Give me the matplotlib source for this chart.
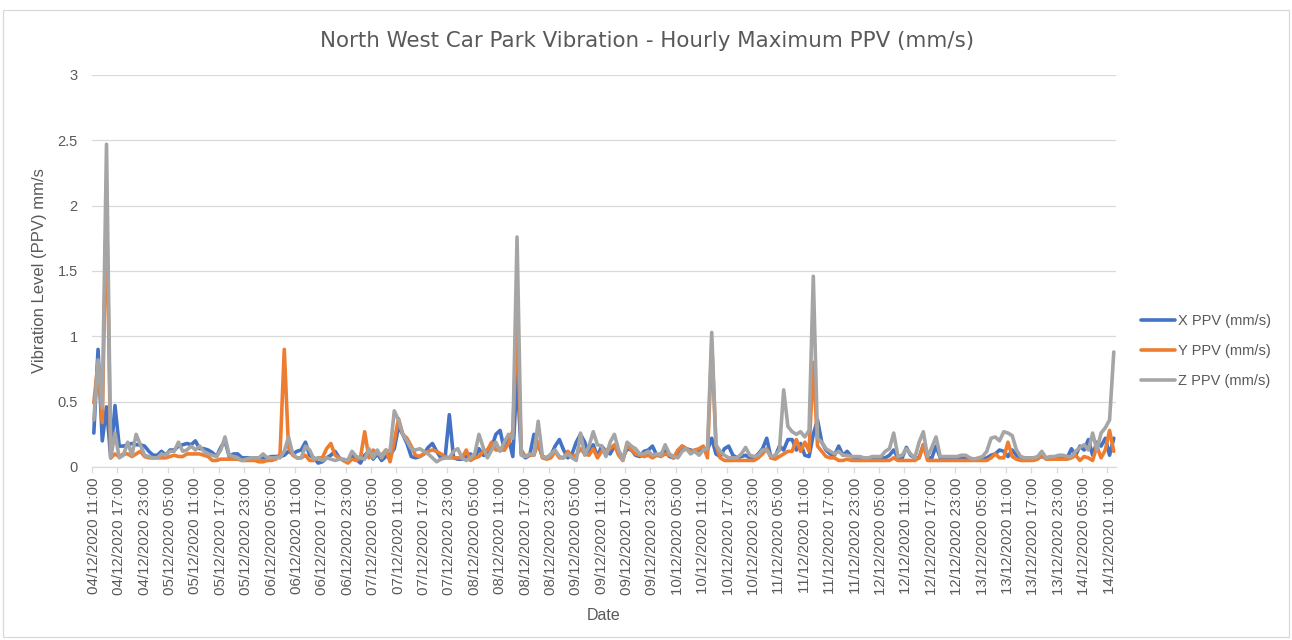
import matplotlib
matplotlib.use('Agg')
import matplotlib.pyplot as plt
import numpy as np
import pandas as pd
from matplotlib.patches import Rectangle

# ---------------- data ----------------
start_time = '2020-12-04 11:00'

x_ppv = [
    0.26, 0.90, 0.20, 0.46, 0.07, 0.47, 0.16, 0.16, 0.17, 0.18,
    0.17, 0.17, 0.16, 0.12, 0.09, 0.09, 0.12, 0.09, 0.13, 0.13,
    0.16, 0.17, 0.18, 0.17, 0.20, 0.14, 0.14, 0.13, 0.11, 0.08,
    0.15, 0.20, 0.08, 0.10, 0.10, 0.07, 0.07, 0.07, 0.07, 0.07,
    0.07, 0.07, 0.08, 0.08, 0.08, 0.09, 0.12, 0.10, 0.12, 0.13,
    0.19, 0.09, 0.07, 0.03, 0.04, 0.07, 0.09, 0.12, 0.07, 0.05,
    0.04, 0.09, 0.06, 0.03, 0.09, 0.12, 0.06, 0.10, 0.05, 0.08,
    0.09, 0.14, 0.31, 0.25, 0.18, 0.08, 0.07, 0.08, 0.10, 0.15,
    0.18, 0.12, 0.07, 0.07, 0.40, 0.07, 0.06, 0.06, 0.08, 0.10,
    0.07, 0.14, 0.09, 0.09, 0.15, 0.25, 0.28, 0.13, 0.22, 0.08,
    0.70, 0.10, 0.07, 0.09, 0.25, 0.17, 0.08, 0.07, 0.09, 0.16,
    0.21, 0.13, 0.07, 0.10, 0.19, 0.25, 0.19, 0.10, 0.17, 0.08,
    0.16, 0.12, 0.10, 0.16, 0.12, 0.07, 0.14, 0.13, 0.09, 0.08,
    0.12, 0.13, 0.16, 0.09, 0.10, 0.13, 0.08, 0.07, 0.10, 0.16,
    0.14, 0.13, 0.12, 0.13, 0.14, 0.13, 0.22, 0.10, 0.08, 0.14,
    0.16, 0.09, 0.07, 0.08, 0.09, 0.07, 0.07, 0.10, 0.14, 0.22,
    0.07, 0.08, 0.16, 0.13, 0.21, 0.21, 0.13, 0.18, 0.09, 0.08,
    0.25, 0.36, 0.19, 0.13, 0.10, 0.09, 0.16, 0.09, 0.12, 0.08,
    0.07, 0.07, 0.06, 0.06, 0.07,
    0.07, 0.07, 0.07, 0.09,
    0.13, 0.07, 0.07, 0.15, 0.09, 0.07, 0.07, 0.17, 0.07, 0.07,
    0.16, 0.07, 0.07, 0.07, 0.07, 0.07, 0.07, 0.07, 0.06, 0.06,
    0.06, 0.06, 0.07, 0.09, 0.10, 0.13, 0.12, 0.08, 0.13, 0.09,
    0.07, 0.07, 0.07, 0.07, 0.07, 0.08, 0.07, 0.07, 0.07, 0.07,
    0.07, 0.07, 0.14, 0.09, 0.16, 0.13, 0.21, 0.09, 0.19, 0.16,
    0.22, 0.09, 0.22,
]

y_ppv = [
    0.49, 0.80, 0.34, 2.05, 0.07, 0.10, 0.08, 0.10, 0.10, 0.08,
    0.10, 0.12, 0.08, 0.07, 0.07, 0.07, 0.07, 0.07, 0.08, 0.09,
    0.08, 0.08, 0.10, 0.10, 0.10, 0.10, 0.09, 0.08, 0.05, 0.05,
    0.06, 0.06, 0.06, 0.06, 0.06, 0.05, 0.05, 0.05, 0.05, 0.04,
    0.04, 0.05, 0.05, 0.06, 0.10, 0.90, 0.15, 0.09, 0.07, 0.07,
    0.09, 0.05, 0.05, 0.07, 0.07, 0.14, 0.18, 0.09, 0.07, 0.05,
    0.03, 0.06, 0.05, 0.07, 0.27, 0.07, 0.13, 0.10, 0.09, 0.13,
    0.04, 0.20, 0.37, 0.25, 0.22, 0.16, 0.09, 0.08, 0.10, 0.12,
    0.13, 0.12, 0.10, 0.08, 0.07, 0.07, 0.07, 0.07, 0.13, 0.05,
    0.07, 0.08, 0.12, 0.13, 0.19, 0.13, 0.13, 0.13, 0.18, 0.28,
    1.10, 0.13, 0.08, 0.09, 0.09, 0.19, 0.07, 0.06, 0.07, 0.12,
    0.07, 0.07, 0.12, 0.08, 0.09, 0.14, 0.10, 0.09, 0.14, 0.07,
    0.12, 0.13, 0.14, 0.17, 0.09, 0.05, 0.17, 0.13, 0.10, 0.09,
    0.08, 0.09, 0.07, 0.09, 0.08, 0.10, 0.09, 0.07, 0.13, 0.16,
    0.14, 0.12, 0.13, 0.14, 0.16, 0.07, 0.95, 0.17, 0.07, 0.05,
    0.05, 0.05, 0.05, 0.05, 0.05, 0.05, 0.05, 0.07, 0.10, 0.14,
    0.07, 0.06, 0.08, 0.10, 0.12, 0.12, 0.21, 0.12, 0.19, 0.12,
    0.80, 0.16, 0.12, 0.08, 0.07, 0.07, 0.05, 0.05, 0.06, 0.05,
    0.05, 0.05, 0.05, 0.05, 0.05,
    0.05, 0.05, 0.05, 0.05,
    0.07, 0.05, 0.05, 0.05, 0.05, 0.05, 0.07, 0.17, 0.05, 0.05,
    0.05, 0.05, 0.05, 0.05, 0.05, 0.05, 0.05, 0.05, 0.05, 0.05,
    0.05, 0.05, 0.05, 0.07, 0.10, 0.07, 0.07, 0.19, 0.08, 0.06,
    0.05, 0.05, 0.05, 0.05, 0.06, 0.09, 0.06, 0.06, 0.06, 0.06,
    0.06, 0.06, 0.07, 0.09, 0.05, 0.08, 0.07, 0.05, 0.16, 0.07,
    0.13, 0.28, 0.12,
]

z_ppv = [
    0.36, 0.82, 0.45, 2.47, 0.07, 0.26, 0.07, 0.09, 0.19, 0.09,
    0.25, 0.17, 0.09, 0.08, 0.07, 0.07, 0.10, 0.09, 0.12, 0.12,
    0.19, 0.12, 0.13, 0.16, 0.13, 0.16, 0.12, 0.10, 0.09, 0.08,
    0.13, 0.23, 0.09, 0.08, 0.07, 0.05, 0.06, 0.07, 0.07, 0.07,
    0.10, 0.07, 0.07, 0.07, 0.07, 0.12, 0.23, 0.10, 0.07, 0.07,
    0.16, 0.13, 0.06, 0.07, 0.05, 0.07, 0.06, 0.05, 0.06, 0.06,
    0.05, 0.12, 0.08, 0.07, 0.06, 0.14, 0.07, 0.13, 0.07, 0.13,
    0.12, 0.43, 0.36, 0.25, 0.20, 0.14, 0.13, 0.14, 0.12, 0.10,
    0.07, 0.04, 0.06, 0.07, 0.07, 0.12, 0.14, 0.07, 0.05, 0.07,
    0.10, 0.25, 0.15, 0.07, 0.13, 0.19, 0.12, 0.19, 0.25, 0.22,
    1.76, 0.09, 0.08, 0.10, 0.09, 0.35, 0.08, 0.07, 0.10, 0.13,
    0.08, 0.07, 0.10, 0.07, 0.05, 0.26, 0.09, 0.16, 0.27, 0.17,
    0.16, 0.08, 0.19, 0.25, 0.13, 0.05, 0.19, 0.16, 0.14, 0.10,
    0.10, 0.12, 0.09, 0.10, 0.09, 0.17, 0.10, 0.08, 0.07, 0.12,
    0.14, 0.10, 0.12, 0.09, 0.13, 0.14, 1.03, 0.17, 0.12, 0.09,
    0.07, 0.07, 0.07, 0.10, 0.15, 0.09, 0.08, 0.09, 0.13, 0.13,
    0.08, 0.09, 0.13, 0.59, 0.31, 0.27, 0.25, 0.27, 0.23, 0.28,
    1.46, 0.22, 0.19, 0.14, 0.12, 0.10, 0.12, 0.09, 0.09, 0.08,
    0.08, 0.08, 0.07, 0.07, 0.08,
    0.08, 0.08, 0.12, 0.14,
    0.26, 0.08, 0.09, 0.14, 0.10, 0.07, 0.19, 0.27, 0.08, 0.15,
    0.23, 0.08, 0.08, 0.08, 0.08, 0.08, 0.09, 0.09, 0.07, 0.06,
    0.07, 0.08, 0.12, 0.22, 0.23, 0.20, 0.27, 0.26, 0.24, 0.13,
    0.08, 0.07, 0.07, 0.07, 0.08, 0.12, 0.07, 0.08, 0.08, 0.09,
    0.09, 0.08, 0.08, 0.12, 0.15, 0.17, 0.13, 0.26, 0.13, 0.26,
    0.30, 0.36, 0.88,
]

series_names = ['X PPV (mm/s)', 'Y PPV (mm/s)', 'Z PPV (mm/s)']
series_colors = ['#4472C4', '#ED7D31', '#A5A5A5']
y_ticks = [0, 0.5, 1, 1.5, 2, 2.5, 3]
y_tick_labels = ['0', '0.5', '1', '1.5', '2', '2.5', '3']
label_every = 6

title_text = 'North West Car Park Vibration - Hourly Maximum PPV (mm/s)'
y_title = 'Vibration Level (PPV) mm/s'
x_title = 'Date'

# ---------------- figure ----------------
W, H = 1292, 640
n = len(x_ppv)
times = pd.date_range(start_time, periods=n, freq='h')
categories = [t.strftime('%d/%m/%Y %H:%M') for t in times]

TXT = '#595959'
GRID = '#D9D9D9'
FONT = ['Liberation Sans', 'DejaVu Sans']

fig = plt.figure(figsize=(W / 100, H / 100), dpi=100)
fig.patch.set_facecolor('white')

left_px, right_px, top_px, bottom_px = 91.7, 1115.9, 75, 467
ax = fig.add_axes([left_px / W, 1 - bottom_px / H,
                   (right_px - left_px) / W, (bottom_px - top_px) / H])

idx = np.arange(n)
for vals, name, col in zip([x_ppv, y_ppv, z_ppv], series_names, series_colors):
    ax.plot(idx, vals, color=col, lw=2.6, label=name,
            solid_joinstyle='round', solid_capstyle='round')

ax.set_xlim(-0.5, n - 0.5)
ax.set_ylim(0, 3)
ax.set_yticks(y_ticks)
ax.set_yticklabels(y_tick_labels, family=FONT, fontsize=10.5, color=TXT)
ax.yaxis.grid(True, color=GRID, lw=0.9)
ax.set_axisbelow(True)
for s in ['left', 'right', 'top']:
    ax.spines[s].set_visible(False)
ax.spines['bottom'].set_color(GRID)
ax.spines['bottom'].set_linewidth(0.9)
ax.tick_params(axis='y', length=0, pad=10)

ax.set_xticks(idx[::label_every])
ax.set_xticklabels(categories[::label_every], rotation=90, family=FONT,
                   fontsize=10.8, color=TXT)
ax.set_xticks(np.arange(-0.5, n, label_every), minor=True)
ax.tick_params(axis='x', which='major', length=0, pad=7.5)
ax.tick_params(axis='x', which='minor', length=4.5, width=0.9, color=GRID)

fig.text(647 / W, 1 - 41 / H, title_text, ha='center', va='center',
         fontsize=15.4, color=TXT, family=['DejaVu Sans'])
fig.text(40 / W, 1 - 271 / H, y_title, ha='center', va='center', rotation=90,
         fontsize=12, color=TXT, family=FONT)
fig.text(604 / W, 1 - 615 / H, x_title, ha='center', va='center',
         fontsize=11.5, color=TXT, family=FONT)

leg = ax.legend(loc='center left', bbox_to_anchor=(1141 / W, 1 - 351 / H),
                bbox_transform=fig.transFigure, frameon=False,
                handlelength=2.3, handletextpad=0.25, labelspacing=1.12,
                borderpad=0, borderaxespad=0,
                prop={'family': FONT, 'size': 10.5})
for t in leg.get_texts():
    t.set_color(TXT)

fig.add_artist(Rectangle((3 / W, 3 / H), (1289 - 3) / W, (630 - 3) / H,
                         transform=fig.transFigure, fill=False,
                         edgecolor=GRID, lw=0.9))

fig.savefig('out.png', dpi=100, facecolor='white')
